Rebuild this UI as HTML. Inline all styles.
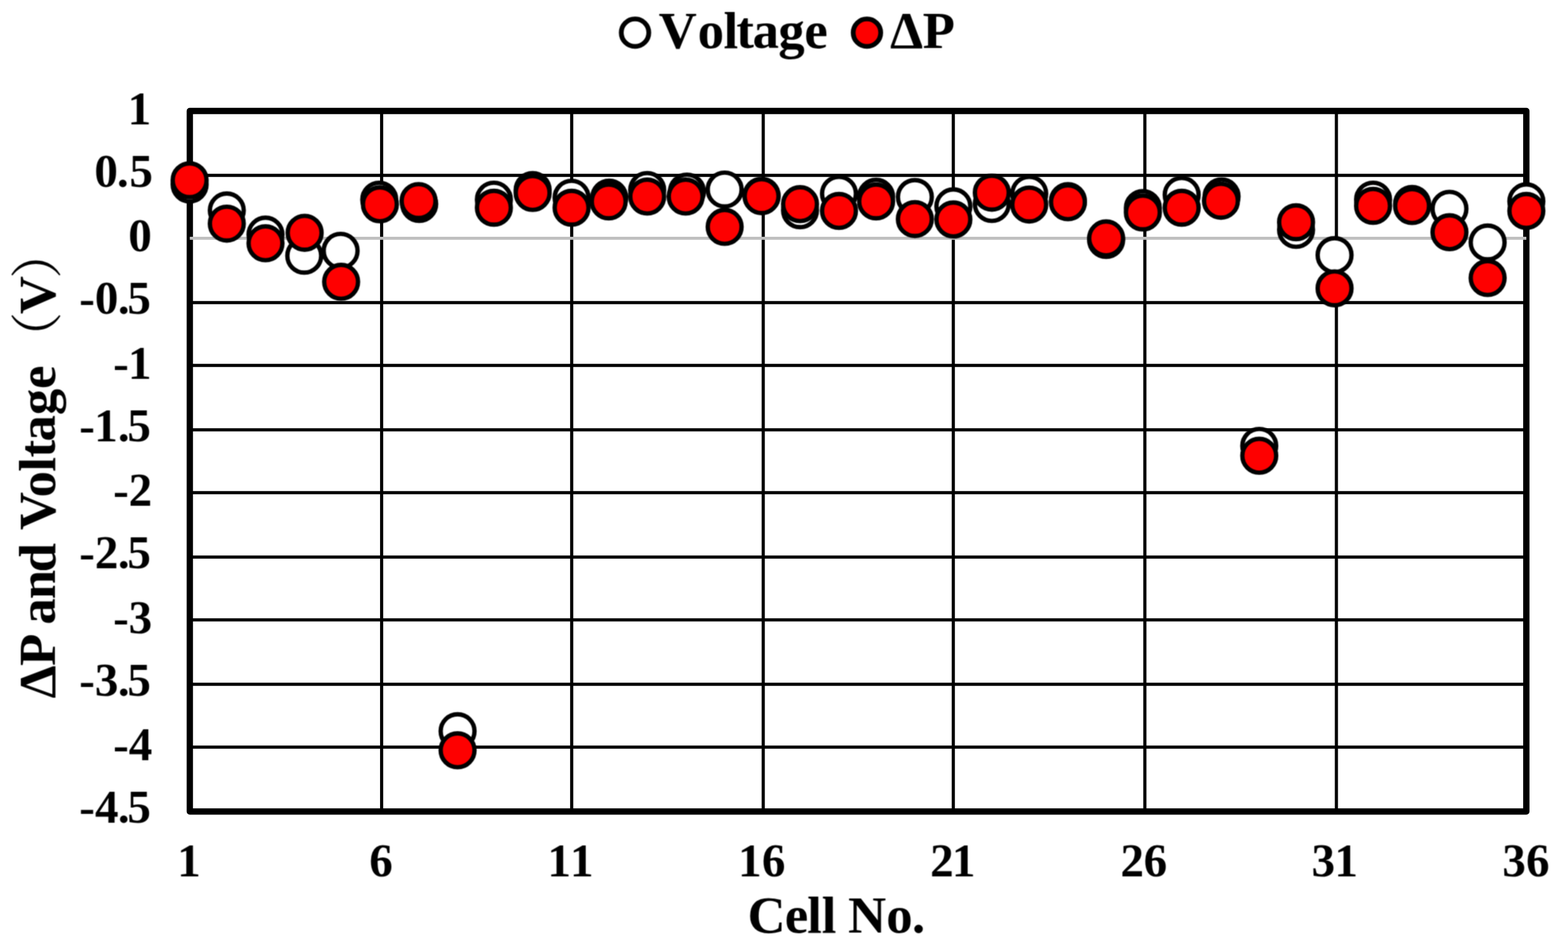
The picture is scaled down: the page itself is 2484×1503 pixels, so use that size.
<!DOCTYPE html>
<html lang="en"><head><meta charset="utf-8"><title>ΔP and Voltage vs Cell No.</title>
<style>html,body{margin:0;padding:0;background:#fff}body{width:2484px;height:1503px;overflow:hidden}svg{display:block}text{font-family:"Liberation Serif","Noto Serif CJK SC",serif;font-weight:bold;fill:#000;font-kerning:none}.tk{font-size:74.5px}.ti{font-size:83.5px}.lg{font-size:83.5px}.pa{font-family:"Noto Serif CJK SC","Noto Serif CJK JP","Noto Sans CJK SC",serif;font-weight:400;font-size:83px}.g{stroke:#000;stroke-width:5;fill:none}.w{fill:#fff;stroke:#000;stroke-width:6.9}.r{fill:#fe0000;stroke:#000;stroke-width:6.9}</style></head><body>
<svg width="2484" height="1503" viewBox="0 0 2484 1503">
<defs><filter id="sf1" filterUnits="userSpaceOnUse" x="266" y="251" width="2187" height="240" color-interpolation-filters="sRGB"><feConvolveMatrix order="3" kernelMatrix="1 2 1 2 4 2 1 2 1" edgeMode="none" preserveAlpha="false"/></filter><filter id="sf2" filterUnits="userSpaceOnUse" x="690" y="1123" width="70" height="100" color-interpolation-filters="sRGB"><feConvolveMatrix order="3" kernelMatrix="1 2 1 2 4 2 1 2 1" edgeMode="none" preserveAlpha="false"/></filter><filter id="sf3" filterUnits="userSpaceOnUse" x="1960" y="671" width="70" height="86" color-interpolation-filters="sRGB"><feConvolveMatrix order="3" kernelMatrix="1 2 1 2 4 2 1 2 1" edgeMode="none" preserveAlpha="false"/></filter><filter id="sf4" filterUnits="userSpaceOnUse" x="970" y="5" width="555" height="103" color-interpolation-filters="sRGB"><feConvolveMatrix order="3" kernelMatrix="1 2 1 2 4 2 1 2 1" edgeMode="none" preserveAlpha="false"/></filter><filter id="sf5" filterUnits="userSpaceOnUse" x="115" y="138" width="135" height="1177" color-interpolation-filters="sRGB"><feConvolveMatrix order="3" kernelMatrix="1 2 1 2 4 2 1 2 1" edgeMode="none" preserveAlpha="false"/></filter><filter id="sf6" filterUnits="userSpaceOnUse" x="275" y="1328" width="2190" height="175" color-interpolation-filters="sRGB"><feConvolveMatrix order="3" kernelMatrix="1 2 1 2 4 2 1 2 1" edgeMode="none" preserveAlpha="false"/></filter><filter id="sf7" filterUnits="userSpaceOnUse" x="5" y="400" width="113" height="718" color-interpolation-filters="sRGB"><feConvolveMatrix order="3" kernelMatrix="1 2 1 2 4 2 1 2 1" edgeMode="none" preserveAlpha="false"/></filter></defs>
<rect x="0" y="0" width="2484" height="1503" fill="#fff"/>
<g class="g">
<line x1="300.7" y1="277.8" x2="2418" y2="277.8"/>
<line x1="300.7" y1="479.3" x2="2418" y2="479.3"/>
<line x1="300.7" y1="578.8" x2="2418" y2="578.8"/>
<line x1="300.7" y1="680.7" x2="2418" y2="680.7"/>
<line x1="300.7" y1="780.2" x2="2418" y2="780.2"/>
<line x1="300.7" y1="882.2" x2="2418" y2="882.2"/>
<line x1="300.7" y1="981.7" x2="2418" y2="981.7"/>
<line x1="300.7" y1="1083.7" x2="2418" y2="1083.7"/>
<line x1="300.7" y1="1183.2" x2="2418" y2="1183.2"/>
<line x1="604.6" y1="175.8" x2="604.6" y2="1285.2"/>
<line x1="905.7" y1="175.8" x2="905.7" y2="1285.2"/>
<line x1="1209.1" y1="175.8" x2="1209.1" y2="1285.2"/>
<line x1="1510.2" y1="175.8" x2="1510.2" y2="1285.2"/>
<line x1="1813.7" y1="175.8" x2="1813.7" y2="1285.2"/>
<line x1="2117.1" y1="175.8" x2="2117.1" y2="1285.2"/>
</g>
<rect x="300.7" y="175.8" width="2117.3" height="1109.4" fill="none" stroke="#000" stroke-width="10" stroke-linejoin="round"/>
<line x1="300.7" y1="377.3" x2="2418" y2="377.3" stroke="#bfbfbf" stroke-width="4.8"/>
<g filter="url(#sf1)">
<g class="w">
<circle cx="300.4" cy="292.3" r="26.8"/>
<circle cx="359.3" cy="333.3" r="26.8"/>
<circle cx="420.6" cy="371.6" r="26.8"/>
<circle cx="482" cy="405" r="26.8"/>
<circle cx="539.6" cy="397.2" r="26.8"/>
<circle cx="600.8" cy="316.2" r="26.8"/>
<circle cx="664.1" cy="323.1" r="26.8"/>
<circle cx="782.4" cy="316.2" r="26.8"/>
<circle cx="843.8" cy="300.9" r="26.8"/>
<circle cx="905.5" cy="313.2" r="26.8"/>
<circle cx="965.1" cy="313" r="26.8"/>
<circle cx="1025.3" cy="300.9" r="26.8"/>
<circle cx="1088.2" cy="303.4" r="26.8"/>
<circle cx="1148" cy="300.2" r="26.8"/>
<circle cx="1206.5" cy="310" r="26.8"/>
<circle cx="1267.4" cy="333" r="26.8"/>
<circle cx="1329.1" cy="306.8" r="26.8"/>
<circle cx="1387.9" cy="311.6" r="26.8"/>
<circle cx="1449.3" cy="312" r="26.8"/>
<circle cx="1510.3" cy="326.8" r="26.8"/>
<circle cx="1571.2" cy="323.1" r="26.8"/>
<circle cx="1630.5" cy="306.8" r="26.8"/>
<circle cx="1691.8" cy="318.5" r="26.8"/>
<circle cx="1752.3" cy="380" r="26.8"/>
<circle cx="1810.5" cy="329.5" r="26.8"/>
<circle cx="1872" cy="308.6" r="26.8"/>
<circle cx="1935.2" cy="311.1" r="26.8"/>
<circle cx="2053.2" cy="364.1" r="26.8"/>
<circle cx="2114.2" cy="404" r="26.8"/>
<circle cx="2175.2" cy="316.2" r="26.8"/>
<circle cx="2237" cy="323" r="26.8"/>
<circle cx="2296.2" cy="330.7" r="26.8"/>
<circle cx="2356.7" cy="384" r="26.8"/>
<circle cx="2418" cy="318.8" r="26.8"/>
</g>
<g class="r">
<circle cx="300.4" cy="285.5" r="26.8"/>
<circle cx="359.3" cy="354.2" r="26.8"/>
<circle cx="420.6" cy="385.3" r="26.8"/>
<circle cx="482.6" cy="368.7" r="26.8"/>
<circle cx="540.4" cy="446.3" r="26.8"/>
<circle cx="601.8" cy="323.6" r="26.8"/>
<circle cx="663.1" cy="318.4" r="26.8"/>
<circle cx="782.4" cy="329" r="26.8"/>
<circle cx="843.8" cy="305.6" r="26.8"/>
<circle cx="905.5" cy="329" r="26.8"/>
<circle cx="964.3" cy="319" r="26.8"/>
<circle cx="1025.3" cy="311.3" r="26.8"/>
<circle cx="1086.2" cy="311.3" r="26.8"/>
<circle cx="1148" cy="359.3" r="26.8"/>
<circle cx="1206.5" cy="310.7" r="26.8"/>
<circle cx="1267.4" cy="323.3" r="26.8"/>
<circle cx="1329.1" cy="334.1" r="26.8"/>
<circle cx="1387.9" cy="319" r="26.8"/>
<circle cx="1449.3" cy="346.9" r="26.8"/>
<circle cx="1510.3" cy="347.6" r="26.8"/>
<circle cx="1571.2" cy="305.2" r="26.8"/>
<circle cx="1630.5" cy="323.9" r="26.8"/>
<circle cx="1691.8" cy="320.3" r="26.8"/>
<circle cx="1752.3" cy="377.6" r="26.8"/>
<circle cx="1810.5" cy="336.5" r="26.8"/>
<circle cx="1872" cy="329" r="26.8"/>
<circle cx="1934.2" cy="317.9" r="26.8"/>
<circle cx="2053.2" cy="352" r="26.8"/>
<circle cx="2114.2" cy="456.7" r="26.8"/>
<circle cx="2175.2" cy="326" r="26.8"/>
<circle cx="2237" cy="326.3" r="26.8"/>
<circle cx="2296.2" cy="367.8" r="26.8"/>
<circle cx="2356.7" cy="440.3" r="26.8"/>
<circle cx="2418" cy="334.1" r="26.8"/>
</g>
</g>
<g filter="url(#sf2)">
<g class="w">
<circle cx="724.9" cy="1158.1" r="26.8"/>
</g>
<g class="r">
<circle cx="724.9" cy="1188.3" r="26.8"/>
</g>
</g>
<g filter="url(#sf3)">
<g class="w">
<circle cx="1994.9" cy="706.2" r="26.8"/>
</g>
<g class="r">
<circle cx="1994.9" cy="721.8" r="26.8"/>
</g>
</g>
<g filter="url(#sf4)">
<circle cx="1006" cy="51.75" r="21.8" fill="#fff" stroke="#000" stroke-width="7.6"/>
<circle cx="1373.4" cy="51.75" r="21.8" fill="#fe0000" stroke="#000" stroke-width="7.6"/>
<text class="lg" x="1043.4 1105.33 1146.3 1166.56 1192.26 1232.93 1274.17" y="76">Voltage</text>
<text class="lg" x="1409.92 1461.82" y="76">ΔP</text>
</g>
<g class="tk" filter="url(#sf5)">
<text x="202.22" y="197.1">1</text>
<text x="149.38 185.29 205.05" y="296">0.5</text>
<text x="203.28" y="397.7">0</text>
<text x="125.55 150.28 186.79 201.85" y="497">-0.5</text>
<text x="179.15 202.72" y="599.7">-1</text>
<text x="125.55 149.22 186.79 201.85" y="699">-1.5</text>
<text x="179.15 203.81" y="801.1">-2</text>
<text x="125.55 150.31 186.79 201.85" y="900.3">-2.5</text>
<text x="179.15 203.65" y="1003">-3</text>
<text x="125.55 150.15 186.79 201.85" y="1102.2">-3.5</text>
<text x="179.15 203.96" y="1203.8">-4</text>
<text x="125.55 150.46 186.79 201.85" y="1303">-4.5</text>
</g>
<g filter="url(#sf6)">
<g class="tk">
<text x="280.72" y="1387.8">1</text>
<text x="584.89" y="1387.8">6</text>
<text x="867.32 903.12" y="1387.8">11</text>
<text x="1169.17 1207.04" y="1387.8">16</text>
<text x="1473.41 1508.12" y="1387.8">21</text>
<text x="1774.91 1811.69" y="1387.8">26</text>
<text x="2077.85 2113.92" y="1387.8">31</text>
<text x="2380.1 2417.49" y="1387.8">36</text>
</g>
<text class="ti" x="1184.34 1243.17 1278.65 1301.75 1324.95 1343.4 1404.03 1444.86" y="1476.8">Cell No.</text>
</g>
<g filter="url(#sf7)">
<text class="ti" transform="translate(86.5 0) rotate(-90)" x="-1106.33 -1054.68 -1003.68 -989.19 -948.91 -906.54 -860.1 -839.5 -787.83 -747 -724.54 -699.24 -657.62 -616.03" y="0">ΔP and Voltage<tspan class="pa" x="-576.8" y="1.6">（</tspan><tspan x="-497.55" y="0">V</tspan><tspan class="pa" x="-441.6" y="1.6">）</tspan></text>
</g>
</svg></body></html>
